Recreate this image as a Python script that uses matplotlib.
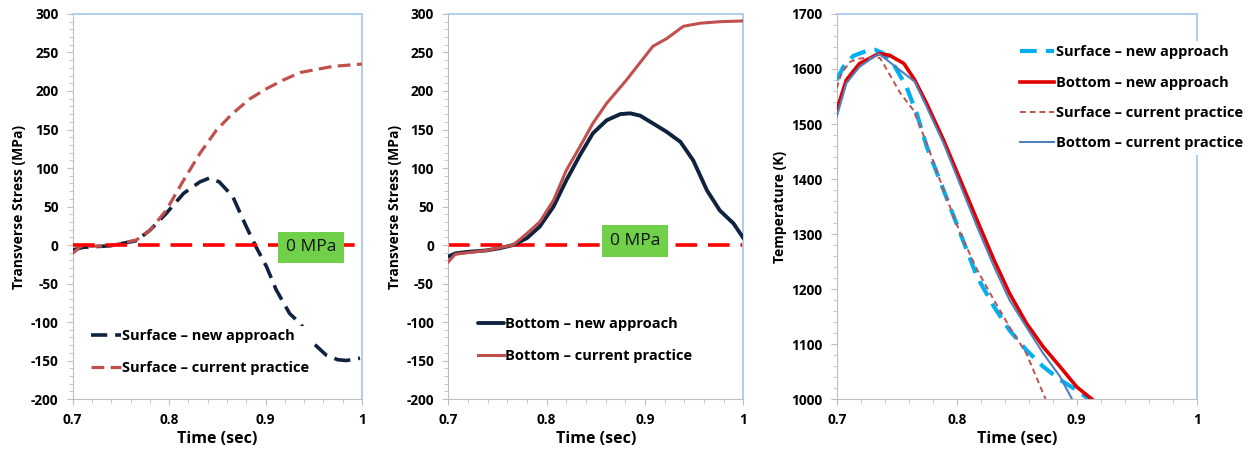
import numpy as np
import matplotlib
matplotlib.use("Agg")
import matplotlib.pyplot as plt
from matplotlib.ticker import MultipleLocator

plt.rcParams['font.family'] = ['Open Sans', 'DejaVu Sans']
plt.rcParams['font.weight'] = 'bold'

# Panel 1 : surface stress
t_surf_new = [0.700, 0.711, 0.739, 0.766, 0.780, 0.797, 0.815, 0.832, 0.842, 0.852, 0.866,
              0.880, 0.890, 0.901, 0.911, 0.925, 0.936, 0.950, 0.963, 0.975, 0.984, 0.998]
s_surf_new = [-6.5, -3, -1, 5.6, 19, 41, 67, 82, 87, 82, 63,
              24, -2, -28, -58, -89, -102, -128, -143, -149, -150, -147]
t_surf_cur = [0.700, 0.708, 0.739, 0.766, 0.780, 0.797, 0.815, 0.832, 0.849, 0.866, 0.884,
              0.901, 0.918, 0.936, 0.953, 0.970, 1.000]
s_surf_cur = [-11, -2, -1, 6.5, 19, 45, 84, 119, 149, 171, 190,
              203, 214, 224, 228, 232, 235]

# Panel 2 : bottom stress
t_bot_new = [0.700, 0.707, 0.719, 0.739, 0.753, 0.766, 0.780, 0.793, 0.807, 0.820, 0.834, 0.847,
             0.861, 0.875, 0.885, 0.895, 0.908, 0.922, 0.936, 0.949, 0.963, 0.976, 0.990, 1.000]
s_bot_new = [-15, -11, -9, -7, -4, 0, 9, 24, 50, 84, 117, 145,
             162, 170, 171, 168, 158, 147, 134, 110, 71, 45, 28, 9]
t_bot_cur = [0.700, 0.707, 0.739, 0.766, 0.780, 0.793, 0.807, 0.820, 0.834, 0.847, 0.861,
             0.881, 0.908, 0.922, 0.939, 0.956, 0.976, 1.000]
s_bot_cur = [-22, -12, -7, 0, 15, 30, 58, 97, 128, 158, 184,
             214, 258, 268, 284, 288, 290, 291]

# Panel 3 : temperature
t_T_surf_new = [0.700, 0.7056, 0.714, 0.725, 0.732, 0.739, 0.747, 0.758, 0.7667, 0.775, 0.789,
                0.803, 0.817, 0.831, 0.844, 0.858, 0.872, 0.886, 0.900, 0.910]
T_surf_new = [1580, 1604, 1624, 1633, 1635, 1628, 1610, 1568, 1519, 1459, 1380,
              1301, 1222, 1168, 1125, 1089, 1059, 1035, 1016, 1000]
t_T_bot_new = [0.700, 0.708, 0.719, 0.735, 0.744, 0.756, 0.765, 0.775, 0.789, 0.803, 0.817,
               0.831, 0.844, 0.858, 0.872, 0.886, 0.900, 0.9125]
T_bot_new = [1525, 1580, 1610, 1628, 1625, 1610, 1580, 1537, 1471, 1398, 1325,
             1253, 1192, 1138, 1095, 1059, 1022, 1000]
t_T_surf_cur = [0.700, 0.704, 0.711, 0.719, 0.731, 0.736, 0.742, 0.753, 0.764, 0.775, 0.789,
                0.803, 0.817, 0.831, 0.844, 0.858, 0.874]
T_surf_cur = [1565, 1592, 1613, 1619, 1621, 1620, 1598, 1556, 1525, 1465, 1380,
              1301, 1235, 1180, 1131, 1083, 1000]
t_T_bot_cur = [0.700, 0.708, 0.719, 0.735, 0.765, 0.775, 0.789, 0.803, 0.817, 0.831, 0.844,
               0.858, 0.872, 0.886, 0.896]
T_bot_cur = [1513, 1574, 1604, 1628, 1577, 1531, 1465, 1389, 1313, 1241, 1180,
             1131, 1083, 1041, 1000]

navy = "#0F2340"
brick = "#C0504D"
zero_red = "#FF0000"
green = "#70D04A"

fig = plt.figure(figsize=(12.55, 4.5), dpi=100)
ax1 = fig.add_axes([0.0579, 0.1133, 0.2305, 0.8556])
ax2 = fig.add_axes([0.3572, 0.1133, 0.2351, 0.8556])
ax3 = fig.add_axes([0.6667, 0.1133, 0.2869, 0.8556])


def style_axes(ax, ylim, ymajor, yminor, ylabel):
    ax.set_xlim(0.7, 1.0)
    ax.set_ylim(*ylim)
    ax.xaxis.set_major_locator(MultipleLocator(0.1))
    ax.xaxis.set_minor_locator(MultipleLocator(0.02))
    ax.yaxis.set_major_locator(MultipleLocator(ymajor))
    ax.yaxis.set_minor_locator(MultipleLocator(yminor))
    ax.xaxis.set_major_formatter(plt.FuncFormatter(lambda v, p: "1" if abs(v - 1) < 1e-9 else "%.1f" % v))
    ax.yaxis.set_major_formatter(plt.FuncFormatter(lambda v, p: "%d" % v))
    for s in ["left", "bottom"]:
        ax.spines[s].set_color("#BFBFBF")
    for s in ["top", "right"]:
        ax.spines[s].set_color("#A9C9EC")
        ax.spines[s].set_linewidth(1.3)
    ax.tick_params(which="major", length=4, color="#BFBFBF", labelsize=9.8)
    ax.tick_params(which="minor", length=3, color="#BFBFBF")
    ax.xaxis.set_tick_params(which="major", pad=5.8)
    ax.yaxis.set_tick_params(which="major", pad=6.3)
    ax.set_xlabel("Time (sec)", fontsize=11.5, fontweight="bold", labelpad=3.5)
    ax.set_ylabel(ylabel, fontsize=10, fontweight="bold", labelpad=3)


def white_legend(leg):
    leg.get_frame().set_edgecolor("none")
    leg.get_frame().set_facecolor("white")
    leg.get_frame().set_alpha(1)
    leg.set_zorder(6)


# --- panel 1
ax1.plot(t_surf_new, s_surf_new, color=navy, lw=2.6, dashes=(4.5, 2.2),
         label="Surface \u2013 new approach", zorder=3)
ax1.plot(t_surf_cur, s_surf_cur, color=brick, lw=2.3, dashes=(4, 2),
         label="Surface \u2013 current practice", zorder=3)
ax1.plot([0.7, 1.0], [0, 0], color=zero_red, lw=2.6, dashes=(6, 3), zorder=4)
ax1.text(0.947, -3, "0 MPa", fontsize=12.5, fontweight="normal", color="#111111",
         ha="center", va="center", zorder=5,
         bbox=dict(boxstyle="square,pad=0.45", facecolor=green, edgecolor="none"))
style_axes(ax1, (-200, 300), 50, 10, "Transverse Stress (MPa)")
leg1 = ax1.legend(loc="upper left", bbox_to_anchor=(0.055, 0.19), frameon=True,
                  fontsize=10.5, handlelength=2.0, handletextpad=0.1, labelspacing=1.25,
                  borderpad=0.2, borderaxespad=0)
white_legend(leg1)

# --- panel 2
ax2.plot(t_bot_new, s_bot_new, color=navy, lw=2.8, solid_capstyle="round",
         label="Bottom \u2013 new approach", zorder=3)
ax2.plot(t_bot_cur, s_bot_cur, color=brick, lw=2.2,
         label="Bottom \u2013 current practice", zorder=3)
ax2.plot([0.7, 1.0], [0, 0], color=zero_red, lw=2.6, dashes=(6, 3), zorder=2)
ax2.text(0.890, 5, "0 MPa", fontsize=12.5, fontweight="normal", color="#111111",
         ha="center", va="center", zorder=5,
         bbox=dict(boxstyle="square,pad=0.45", facecolor=green, edgecolor="none"))
style_axes(ax2, (-200, 300), 50, 10, "Transverse Stress (MPa)")
leg2 = ax2.legend(loc="upper left", bbox_to_anchor=(0.09, 0.221), frameon=False,
                  fontsize=10.5, handlelength=1.8, handletextpad=0.05, labelspacing=1.25,
                  borderpad=0.2, borderaxespad=0)

# --- panel 3
ax3.plot(t_T_surf_new, T_surf_new, color="#00B0F0", lw=3.0, dashes=(4, 2.2),
         label="Surface \u2013 new approach", zorder=3)
ax3.plot(t_T_bot_new, T_bot_new, color="#E00000", lw=2.6,
         label="Bottom \u2013 new approach", zorder=3)
ax3.plot(t_T_surf_cur, T_surf_cur, color=brick, lw=1.4, dashes=(3, 2),
         label="Surface \u2013 current practice", zorder=4)
ax3.plot(t_T_bot_cur, T_bot_cur, color="#4F81BD", lw=1.5,
         label="Bottom \u2013 current practice", zorder=4)
style_axes(ax3, (1000, 1700), 100, 20, "Temperature (K)")
leg3 = ax3.legend(loc="upper left", bbox_to_anchor=(0.497, 0.93), frameon=True,
                  fontsize=10.5, handlelength=2.3, handletextpad=0.2, labelspacing=1.12,
                  borderpad=0.3, borderaxespad=0)
white_legend(leg3)

fig.savefig("out.png", dpi=100)
